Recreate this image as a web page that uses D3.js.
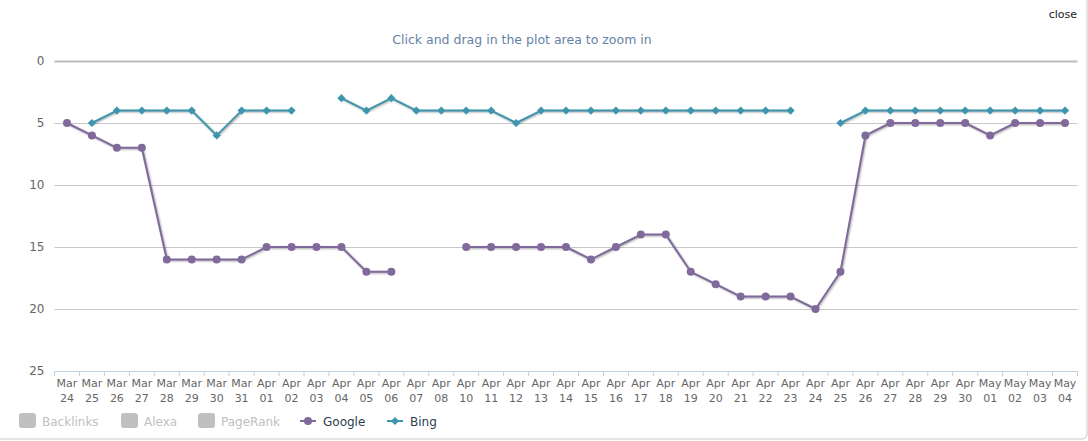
<!DOCTYPE html>
<html lang="en">
<head>
    <meta charset="UTF-8"/>
    <title>Search Engine Ranking</title>
    <script src="https://d3js.org/d3.v7.min.js"></script>
    <style>
        body { margin: 0; background: #fff; }
        text { font-family: "DejaVu Sans", Verdana, sans-serif; }
        .line { fill: none; stroke-width: 2px; stroke-linejoin: round; stroke-linecap: round; }
        .shadow { fill: none; stroke: #000; stroke-linejoin: round; }
    </style>
</head>
<body>
    <script>
        var w = 1088;
        var h = 441;

        // categories (Apr 09 is missing in the source data)
        var categories = [
            "Mar 24", "Mar 25", "Mar 26", "Mar 27", "Mar 28", "Mar 29", "Mar 30", "Mar 31",
            "Apr 01", "Apr 02", "Apr 03", "Apr 04", "Apr 05", "Apr 06", "Apr 07", "Apr 08",
            "Apr 10", "Apr 11", "Apr 12", "Apr 13", "Apr 14", "Apr 15", "Apr 16", "Apr 17",
            "Apr 18", "Apr 19", "Apr 20", "Apr 21", "Apr 22", "Apr 23", "Apr 24", "Apr 25",
            "Apr 26", "Apr 27", "Apr 28", "Apr 29", "Apr 30", "May 01", "May 02", "May 03",
            "May 04"
        ];

        var google = [
            5, 6, 7, 7, 16, 16, 16, 16,
            15, 15, 15, 15, 17, 17, null, null,
            15, 15, 15, 15, 15, 16, 15, 14,
            14, 17, 18, 19, 19, 19, 20, 17,
            6, 5, 5, 5, 5, 6, 5, 5,
            5
        ];

        var bing = [
            null, 5, 4, 4, 4, 4, 6, 4,
            4, 4, null, 3, 4, 3, 4, 4,
            4, 4, 5, 4, 4, 4, 4, 4,
            4, 4, 4, 4, 4, 4, null, 5,
            4, 4, 4, 4, 4, 4, 4, 4,
            4
        ];

        var yTicks = [0, 5, 10, 15, 20, 25];
        var legendItems = ["Backlinks", "Alexa", "PageRank", "Google", "Bing"];

        var plotLeft = 54.5, plotRight = 1077.5, plotTop = 61, plotBottom = 371;

        var xScale = d3.scaleBand().domain(categories).range([plotLeft, plotRight]);
        var yScale = d3.scaleLinear().domain([0, 25]).range([plotTop, plotBottom]);
        var cx = function(c) { return xScale(c) + xScale.bandwidth() / 2; };

        var svg = d3.select("body")
            .append("svg")
            .attr("width", w)
            .attr("height", h);

        // outer frame
        svg.append("rect")
            .attr("x", -10).attr("y", -10)
            .attr("width", w - 1 + 10).attr("height", h - 2 + 10)
            .attr("rx", 5)
            .attr("fill", "#fff")
            .attr("stroke", "#c8c8c8");

        // subtitle and close link
        svg.append("text")
            .attr("x", 522)
            .attr("y", 44)
            .attr("text-anchor", "middle")
            .style("font-size", "12.5px")
            .style("fill", "#6482a6")
            .text("Click and drag in the plot area to zoom in");

        svg.append("text")
            .attr("x", 1077)
            .attr("y", 18)
            .attr("text-anchor", "end")
            .style("font-size", "11px")
            .style("fill", "#222")
            .text("close");

        // gridlines + y labels
        var yAxis = svg.append("g")
            .attr("transform", "translate(" + plotLeft + ",0)")
            .call(d3.axisLeft(yScale).tickValues(yTicks).tickSize(-(plotRight - plotLeft)).tickPadding(10));
        yAxis.select(".domain").remove();
        yAxis.selectAll(".tick line")
            .attr("stroke", function(d) { return d === 0 ? "#bbb" : "#c8c8c8"; })
            .attr("stroke-width", function(d) { return d === 0 ? 2 : 1; });
        yAxis.selectAll(".tick text")
            .style("font-size", "12px")
            .style("fill", "#666")
            .style("font-family", "'DejaVu Sans', Verdana, sans-serif");
        yAxis.selectAll(".tick").filter(function(d) { return d === 25; }).select("line").remove();

        // x axis
        var xAxis = svg.append("g");
        xAxis.append("line")
            .attr("x1", plotLeft).attr("x2", plotRight)
            .attr("y1", plotBottom + 0.5).attr("y2", plotBottom + 0.5)
            .attr("stroke", "#c0d0e0");
        xAxis.selectAll(".xtick")
            .data(categories.concat(["end"]))
            .enter().append("line")
            .attr("x1", function(d) { return d === "end" ? plotRight : xScale(d); })
            .attr("x2", function(d) { return d === "end" ? plotRight : xScale(d); })
            .attr("y1", plotBottom)
            .attr("y2", plotBottom + 5)
            .attr("stroke", "#c0d0e0");
        var xl = xAxis.selectAll(".xlabel")
            .data(categories)
            .enter().append("text")
            .attr("text-anchor", "middle")
            .style("font-size", "11px")
            .style("fill", "#666");
        xl.append("tspan")
            .attr("x", cx).attr("y", plotBottom + 16)
            .text(function(d) { return d.split(" ")[0]; });
        xl.append("tspan")
            .attr("x", cx).attr("y", plotBottom + 31)
            .text(function(d) { return d.split(" ")[1]; });

        // series
        var seriesList = [
            { name: "Google", values: google, color: "#80699b", marker: "circle" },
            { name: "Bing", values: bing, color: "#3d96ae", marker: "diamond" }
        ];

        var line = d3.line()
            .defined(function(d) { return d.v !== null; })
            .x(function(d) { return cx(d.c); })
            .y(function(d) { return yScale(d.v); });

        var diamond = d3.symbol(d3.symbolSquare, 34);

        seriesList.forEach(function(s) {
            var pts = categories.map(function(c, i) { return { c: c, v: s.values[i] }; });
            var g = svg.append("g");
            // soft shadow
            [[5, 0.05], [3, 0.1], [1, 0.15]].forEach(function(sh) {
                g.append("path")
                    .datum(pts)
                    .attr("class", "shadow")
                    .attr("transform", "translate(1,1)")
                    .attr("stroke-width", sh[0])
                    .attr("stroke-opacity", sh[1])
                    .attr("d", line);
            });
            g.append("path")
                .datum(pts)
                .attr("class", "line")
                .style("stroke", s.color)
                .attr("d", line);

            var defined = pts.filter(function(d) { return d.v !== null; });
            if (s.marker === "circle") {
                g.selectAll(".pt").data(defined).enter().append("circle")
                    .attr("cx", function(d) { return cx(d.c); })
                    .attr("cy", function(d) { return yScale(d.v); })
                    .attr("r", 4)
                    .attr("fill", s.color);
            } else {
                g.selectAll(".pt").data(defined).enter().append("path")
                    .attr("d", diamond)
                    .attr("transform", function(d) {
                        return "translate(" + cx(d.c) + "," + yScale(d.v) + ") rotate(45)";
                    })
                    .attr("fill", s.color);
            }
        });

        // legend
        var legendX = [19, 121, 198, 300, 387];
        var legend = svg.selectAll(".legend")
            .data(legendItems)
            .enter().append("g")
            .attr("class", "legend")
            .attr("transform", function(d, i) { return "translate(" + legendX[i] + ",421)"; });

        legend.each(function(d) {
            var g = d3.select(this);
            var s = seriesList.find(function(x) { return x.name === d; });
            if (!s) {
                g.append("rect")
                    .attr("x", 0).attr("y", -8)
                    .attr("width", 17).attr("height", 15)
                    .attr("rx", 3)
                    .attr("fill", "#c0c0c0");
                g.append("text")
                    .attr("x", 23).attr("y", 4.5)
                    .style("font-size", "12px")
                    .style("fill", "#c0c0c0")
                    .text(d);
            } else {
                g.append("line")
                    .attr("x1", 0).attr("x2", 16)
                    .attr("y1", 0).attr("y2", 0)
                    .attr("stroke", s.color)
                    .attr("stroke-width", 2);
                if (s.marker === "circle") {
                    g.append("circle").attr("cx", 8).attr("cy", 0).attr("r", 4).attr("fill", s.color);
                } else {
                    g.append("path").attr("d", diamond)
                        .attr("transform", "translate(8,0) rotate(45)")
                        .attr("fill", s.color);
                }
                g.append("text")
                    .attr("x", 23).attr("y", 4.5)
                    .style("font-size", "12px")
                    .style("fill", "#2c3e50")
                    .text(d);
            }
        });
    </script>
</body>
</html>
